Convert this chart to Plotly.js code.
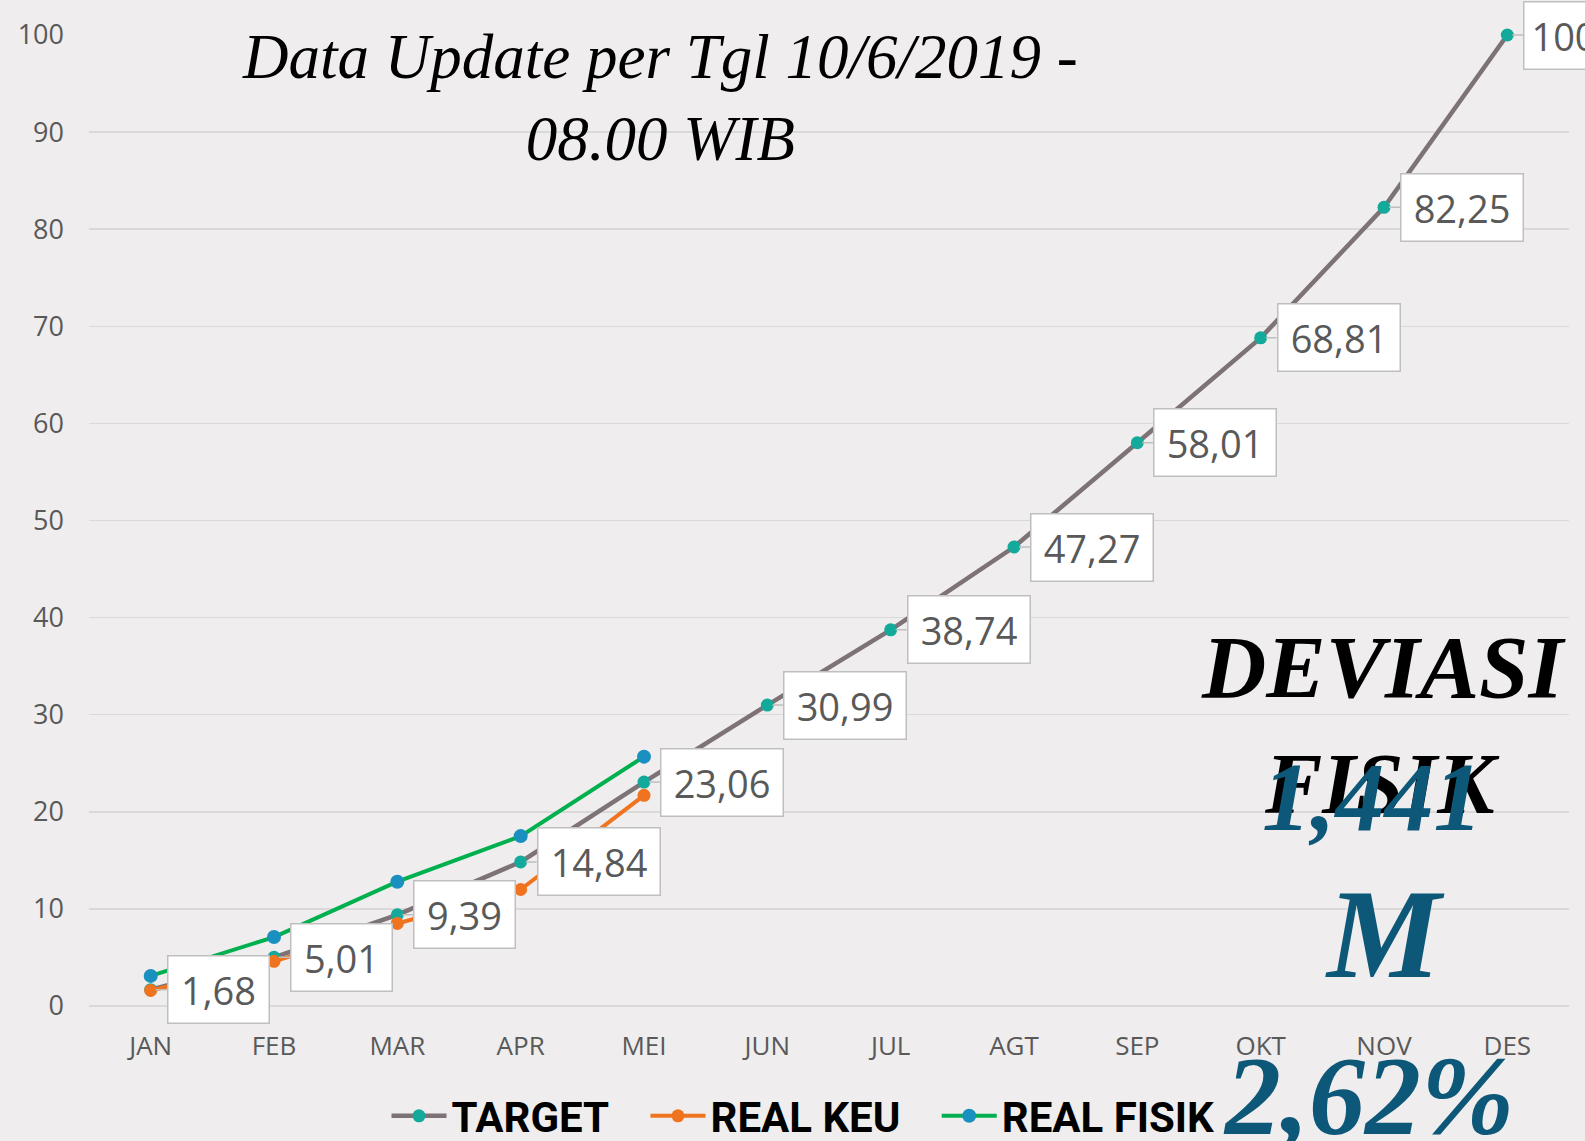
<!DOCTYPE html>
<html>
<head>
<meta charset="utf-8">
<script src="https://cdn.plot.ly/plotly-3.0.1.min.js"></script>
<style>
html,body{margin:0;padding:0;background:#efeded;}
#chart{width:1585px;height:1141px;}
</style>
</head>
<body>
<div id="chart"></div>
<script>
const months = ['JAN','FEB','MAR','APR','MEI','JUN','JUL','AGT','SEP','OKT','NOV','DES'];
const target = [1.68, 5.01, 9.39, 14.84, 23.06, 30.99, 38.74, 47.27, 58.01, 68.81, 82.25, 100];
const targetLabels = ['1,68','5,01','9,39','14,84','23,06','30,99','38,74','47,27','58,01','68,81','82,25','100'];
const realKeuMonths = ['JAN','FEB','MAR','APR','MEI'];
const realKeu = [1.6, 4.6, 8.5, 12.0, 21.7];
const realFisikMonths = ['JAN','FEB','MAR','APR','MEI'];
const realFisik = [3.1, 7.1, 12.8, 17.5, 25.68];
const seriesNames = ['TARGET','REAL KEU','REAL FISIK'];
const titleText = 'Data Update per Tgl 10/6/2019 -<br>08.00 WIB';
const deviasiTexts = ['DEVIASI','FISIK','1,441','M','2,62%'];

const W = 1585, H = 1141;
const L = 89, R = 16, T = 35, B = 135;
const plotW = W - L - R, plotH = H - T - B;
const px = x => (x - L) / plotW;
const py = y => (H - B - y) / plotH;
const gap = '\u00a0\u00a0\u00a0';

const traces = [
  {x: months, y: target, name: seriesNames[0] + gap, type: 'scatter', mode: 'lines+markers',
   line: {color: '#7d7276', width: 4.5}, marker: {color: '#13a99b', size: 13}, cliponaxis: false},
  {x: realKeuMonths, y: realKeu, name: seriesNames[1] + gap, type: 'scatter', mode: 'lines+markers',
   line: {color: '#f0731f', width: 4}, marker: {color: '#f0731f', size: 13}, cliponaxis: false},
  {x: realFisikMonths, y: realFisik, name: seriesNames[2], type: 'scatter', mode: 'lines+markers',
   line: {color: '#00b04f', width: 4}, marker: {color: '#1a90c0', size: 14}, cliponaxis: false}
];

const annotations = target.map((v, i) => ({
  x: months[i], y: v, xref: 'x', yref: 'y', text: targetLabels[i],
  showarrow: true, ax: 16, ay: 0, axref: 'pixel', ayref: 'pixel',
  xanchor: 'left', yanchor: 'middle',
  arrowcolor: '#bfbfbf', arrowwidth: 1.5, arrowhead: 0, standoff: 5,
  bgcolor: '#ffffff', bordercolor: '#bfbfbf', borderwidth: 1.5, borderpad: 8,
  width: targetLabels[i].length * 21, height: 50,
  font: {family: 'Open Sans', size: 38, color: '#595959'}
}));

annotations.push({
  xref: 'paper', yref: 'paper', x: px(660), y: py(98), text: titleText, showarrow: false,
  xanchor: 'center', yanchor: 'middle',
  font: {family: 'Liberation Serif', size: 63, style: 'italic', color: '#000000'}
});

const bigFont = (size, color) => ({family: 'Liberation Serif', size: size, color: color, style: 'italic', weight: 'bold'});
const deviasiPos = [
  {x: 1383, y: 667, size: 89, color: '#000000'},
  {x: 1382, y: 784, size: 86, color: '#000000'},
  {x: 1372, y: 797, size: 98, color: '#0d5878'},
  {x: 1385, y: 934, size: 128, color: '#0d5878'},
  {x: 1368, y: 1096, size: 112, color: '#0d5878'}
];
deviasiTexts.forEach((t, i) => {
  const p = deviasiPos[i];
  annotations.push({
    xref: 'paper', yref: 'paper', x: px(p.x), y: py(p.y), text: t, showarrow: false,
    xanchor: 'center', yanchor: 'middle', font: bigFont(p.size, p.color)
  });
});

const layout = {
  width: W, height: H,
  margin: {l: L, r: R, t: T, b: B, autoexpand: false},
  paper_bgcolor: '#efeded', plot_bgcolor: '#efeded',
  xaxis: {type: 'category', categoryarray: months, range: [-0.5, 11.5], showgrid: false,
          showline: false, zeroline: false, ticks: '', ticklabelstandoff: 22,
          tickfont: {family: 'Open Sans', size: 26, color: '#595959'}},
  yaxis: {range: [0, 100], dtick: 10, tick0: 0, gridcolor: '#d9d9d9', gridwidth: 1.5,
          zeroline: true, zerolinecolor: '#d9d9d9', zerolinewidth: 1.5, showline: false,
          ticks: '', ticklabelstandoff: 24,
          tickfont: {family: 'Open Sans', size: 27, color: '#595959'}},
  legend: {orientation: 'h', x: px(803), xanchor: 'center', y: py(1116), yanchor: 'middle',
           itemwidth: 55,
           bgcolor: 'rgba(0,0,0,0)', font: {family: 'Roboto', size: 42, color: '#000000', weight: 'bold'}},
  showlegend: true,
  annotations: annotations
};

Plotly.newPlot('chart', traces, layout, {displayModeBar: false, staticPlot: true});
</script>
</body>
</html>
